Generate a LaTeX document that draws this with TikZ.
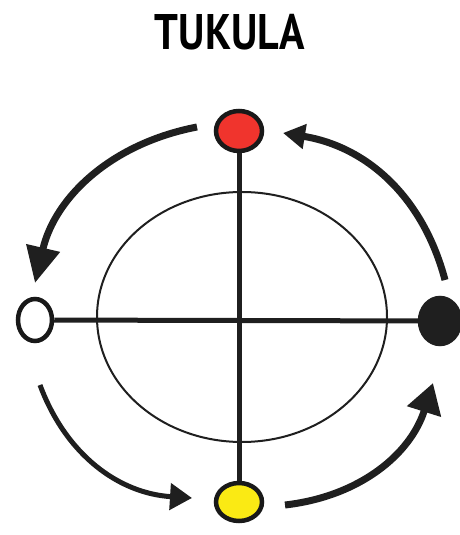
\documentclass[tikz,border=0pt]{standalone}
\usepackage{fontspec}
\usepackage{tikz}
\usetikzlibrary{positioning,arrows.meta,shapes.geometric,calc}
\newfontfamily\titlefont{PT Sans}
\definecolor{dotred}{RGB}{240,52,45}
\definecolor{dotyellow}{RGB}{250,234,20}

\begin{document}
\begin{tikzpicture}[x=1pt, y=1pt,
  dot/.style={ellipse, draw=black!90, line width=4.5pt, inner sep=0pt},
  axis/.style={line width=5pt, draw=black!88},
  turn/.style={line width=7pt, draw=black!88, bend right=33}]
\useasboundingbox (0,0) rectangle (459,535);
% title
\node[font=\titlefont\bfseries\fontsize{50}{50}\selectfont, xscale=0.84] (title) at (230,503) {TUKULA};
% inner ellipse
\draw[line width=2pt, black!88] (242,218) ellipse [x radius=145pt, y radius=125pt];
% the four dots
\node[dot, fill=dotred, minimum width=46pt, minimum height=40pt] (topdot) at (239,404) {};
\node[dot, fill=dotyellow, minimum width=46pt, minimum height=38pt] (botdot) at (239,33) {};
\node[dot, fill=white, minimum width=34pt, minimum height=42pt] (leftdot) at (35,215) {};
\node[dot, fill=black!88, draw=black!88, minimum width=40pt, minimum height=46pt] (rightdot) at (440,214) {};
% cross
\draw[axis] (topdot) -- (botdot);
\draw[axis] (leftdot) -- (rightdot);
% arrow ends
\coordinate (tlA) at (197,408); \coordinate (tlB) at (35,252);
\coordinate (blA) at (40,150);  \coordinate (blB) at (192,37);
\coordinate (brA) at (285,30);  \coordinate (brB) at (433,152);
\coordinate (trA) at (445,255); \coordinate (trB) at (283,402);
% turning arrows
\draw[turn, -{Triangle[length=36pt,width=33pt]}] (tlA) to (tlB);
\draw[turn, line width=5pt, -{Triangle[length=22pt,width=26pt]}] (blA) to (blB);
\draw[turn, -{Triangle[length=30pt,width=34pt]}] (brA) to (brB);
\draw[turn, -{Triangle[length=22pt,width=24pt]}] (trA) to (trB);
\end{tikzpicture}
\end{document}
